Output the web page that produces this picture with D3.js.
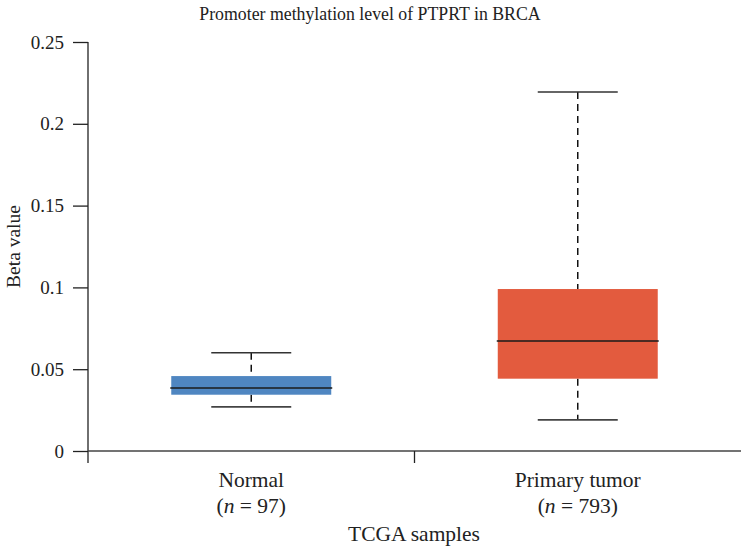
<!DOCTYPE html>
<html>
<head>
<meta charset="utf-8">
<script src="https://cdn.jsdelivr.net/npm/d3@7"></script>
<style>
  body { margin: 0; background: #fff; }
  svg text { font-family: "Liberation Serif", "DejaVu Serif", serif; fill: #222; }
</style>
</head>
<body>
<svg id="chart" width="741" height="552"></svg>
<script>
// Box summaries of promoter methylation (beta value) per sample group
const groups = ["Normal", "Primary tumor"];
const counts = [97, 793];
const whiskerLow = [0.027, 0.019];
const q1 = [0.0344, 0.0442];
const median = [0.0385, 0.0672];
const q3 = [0.0458, 0.099];
const whiskerHigh = [0.0601, 0.2194];
const colors = ["#4f86c1", "#e35b3e"];
const yTicks = [0, 0.05, 0.1, 0.15, 0.2, 0.25];
const yTickLabels = ["0", "0.05", "0.1", "0.15", "0.2", "0.25"];

const svg = d3.select("#chart");
const plotLeft = 88, plotRight = 741, plotTop = 42, plotBottom = 451;

const x = d3.scaleBand().domain(groups).range([plotLeft, plotRight]);
const y = d3.scaleLinear().domain([0, 0.25]).range([plotBottom, plotTop]);

// title
svg.append("text")
  .attr("x", 370).attr("y", 20)
  .attr("text-anchor", "middle")
  .style("font-size", "17.8px")
  .text("Promoter methylation level of PTPRT in BRCA");

// y axis
const yAxis = d3.axisLeft(y)
  .tickValues(yTicks)
  .tickFormat((d, i) => yTickLabels[i])
  .tickSize(15).tickPadding(9);
const gy = svg.append("g").attr("transform", `translate(${plotLeft},0)`).call(yAxis);
gy.select(".domain").remove();
gy.selectAll(".tick line").attr("stroke", "#222").attr("stroke-width", 1.3);
gy.selectAll(".tick text").style("font-size", "19px").attr("fill", "#222")
  .style("font-family", '"Liberation Serif", serif');
svg.append("line")
  .attr("x1", plotLeft).attr("x2", plotLeft)
  .attr("y1", y(0.25)).attr("y2", plotBottom + 12)
  .attr("stroke", "#222").attr("stroke-width", 1.3);

// x axis with boundary ticks between the groups
svg.append("line")
  .attr("x1", plotLeft).attr("x2", plotRight)
  .attr("y1", plotBottom).attr("y2", plotBottom)
  .attr("stroke", "#444").attr("stroke-width", 1.5);
const boundaries = groups.slice(1).map(g => x(g));
svg.selectAll(".xtick").data(boundaries).enter().append("line")
  .attr("x1", d => d).attr("x2", d => d)
  .attr("y1", plotBottom).attr("y2", plotBottom + 12)
  .attr("stroke", "#222").attr("stroke-width", 1.3);

// group labels
const lab = svg.selectAll(".glabel").data(groups).enter().append("g")
  .attr("transform", d => `translate(${x(d) + x.bandwidth() / 2},0)`);
lab.append("text")
  .attr("y", 487).attr("text-anchor", "middle")
  .style("font-size", "21.5px")
  .text(d => d);
lab.append("text")
  .attr("y", 513).attr("text-anchor", "middle")
  .style("font-size", "21.5px")
  .each(function(d, i) {
    const t = d3.select(this);
    t.append("tspan").text("(");
    t.append("tspan").style("font-style", "italic").text("n");
    t.append("tspan").text(" = " + counts[i] + ")");
  });

// axis titles
svg.append("text")
  .attr("x", 414).attr("y", 541)
  .attr("text-anchor", "middle")
  .style("font-size", "21.5px")
  .text("TCGA samples");
svg.append("text")
  .attr("transform", `translate(20,${(plotTop + plotBottom) / 2}) rotate(-90)`)
  .attr("text-anchor", "middle")
  .style("font-size", "19.5px")
  .text("Beta value");

// boxes
const boxW = x.bandwidth() * 0.49;
const capW = x.bandwidth() * 0.245;
const boxes = svg.selectAll(".box").data(groups).enter().append("g")
  .attr("transform", d => `translate(${x(d) + x.bandwidth() / 2},0)`);

// dashed whiskers
boxes.append("line")
  .attr("x1", 0).attr("x2", 0)
  .attr("y1", (d, i) => y(whiskerHigh[i])).attr("y2", (d, i) => y(q3[i]))
  .attr("stroke", "#111").attr("stroke-width", 1.5).attr("stroke-dasharray", "7,5");
boxes.append("line")
  .attr("x1", 0).attr("x2", 0)
  .attr("y1", (d, i) => y(q1[i])).attr("y2", (d, i) => y(whiskerLow[i]))
  .attr("stroke", "#111").attr("stroke-width", 1.5).attr("stroke-dasharray", "7,5");
// caps
boxes.append("line")
  .attr("x1", -capW / 2).attr("x2", capW / 2)
  .attr("y1", (d, i) => y(whiskerHigh[i])).attr("y2", (d, i) => y(whiskerHigh[i]))
  .attr("stroke", "#333").attr("stroke-width", 1.6);
boxes.append("line")
  .attr("x1", -capW / 2).attr("x2", capW / 2)
  .attr("y1", (d, i) => y(whiskerLow[i])).attr("y2", (d, i) => y(whiskerLow[i]))
  .attr("stroke", "#444").attr("stroke-width", 1.8);
// box body
boxes.append("rect")
  .attr("x", -boxW / 2).attr("width", boxW)
  .attr("y", (d, i) => y(q3[i]))
  .attr("height", (d, i) => y(q1[i]) - y(q3[i]))
  .attr("fill", (d, i) => colors[i]);
// median
boxes.append("line")
  .attr("x1", -boxW / 2 - 1).attr("x2", boxW / 2 + 1)
  .attr("y1", (d, i) => y(median[i])).attr("y2", (d, i) => y(median[i]))
  .attr("stroke", "#1a1a1a").attr("stroke-width", 1.6);
</script>
</body>
</html>
